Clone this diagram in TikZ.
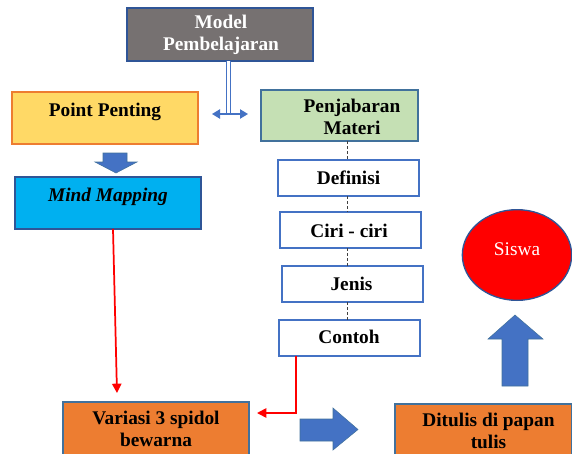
\documentclass[tikz,border=0pt]{standalone}
\usepackage{fontspec}
\setmainfont{Liberation Serif}[BoldFont={Liberation Serif Bold},ItalicFont={Liberation Serif Italic},BoldItalicFont={Liberation Serif Bold Italic}]
\usetikzlibrary{arrows.meta,shapes.geometric}
\definecolor{mgray}{HTML}{767171}
\definecolor{myellow}{HTML}{FFD966}
\definecolor{morange}{HTML}{ED7D31}
\definecolor{mcyan}{HTML}{00B0F0}
\definecolor{mgreen}{HTML}{C5E0B4}
\definecolor{mblue}{HTML}{4472C4}
\definecolor{mslate}{HTML}{41719C}
\definecolor{mdark}{HTML}{2F5597}
\tikzset{
  box/.style={draw=#1, line width=1.1pt, inner sep=0pt, outer sep=0pt},
  txt/.style={font=\fontsize{14.5}{16}\selectfont\bfseries, align=center, inner sep=0pt},
  item/.style={box=mblue, fill=white},
  dotline/.style={dash pattern=on 2.2pt off 1.6pt, line width=0.7pt, black!75},
  redline/.style={draw=red, line width=1.3pt, -{Triangle[length=7pt,width=7pt]}},
  blockarrow/.style={fill=mblue, draw=mslate, line width=0.4pt},
}
\newcommand{\boxat}[6]{% name, x1, y1, x2, y2, style
  \node[#6, minimum width={(#4-#2)*0.75pt}, minimum height={(#5-#3)*0.75pt}] (#1) at ({(#2+#4)/2},{(#3+#5)/2}) {};}
\begin{document}
\begin{tikzpicture}[x=0.75pt,y=-0.75pt]
\useasboundingbox (0,0) rectangle (572,454);

% boxes
\boxat{model}{127}{8}{313}{61}{box=mdark, fill=mgray}
\boxat{pp}{12}{92}{198}{144}{box=morange, fill=myellow}
\boxat{mm}{15}{177}{201}{229}{box=mdark, fill=mcyan}
\boxat{pm}{261}{90}{418}{141}{box=mslate, fill=mgreen}
\boxat{def}{278}{160}{419}{196}{item}
\boxat{ciri}{280}{212}{421}{248}{item}
\boxat{jen}{282}{266}{423}{302}{item}
\boxat{con}{279}{320}{420}{356}{item}
\boxat{var}{63}{402}{249}{458}{box=mslate, fill=morange}
\boxat{dit}{395}{404}{572}{458}{box=mslate, fill=morange}
\node[draw=mdark, line width=1pt, fill=red, ellipse, minimum width=82pt, minimum height=68pt, inner sep=0pt] (sis) at (517,255) {};

% texts
\node[txt, text=white] (tmodel) at (221,35) {Model\\Pembelajaran};
\node[txt] (tpp) at (105,112) {Point Penting};
\node[txt, font=\fontsize{14.5}{16}\selectfont\bfseries\itshape] (tmm) at (108,197) {Mind Mapping};
\node[txt] (tpm) at (352,117) {Penjabaran\\Materi};
\node[txt] (tdef) at (348.5,178) {Definisi};
\node[txt] (tciri) at (349,231) {Ciri - ciri};
\node[txt] (tjen) at (351.5,283.5) {Jenis};
\node[txt] (tcon) at (349,337) {Contoh};
\node[txt] (tvar) at (156,429) {Variasi 3 spidol\\bewarna};
\node[txt] (tdit) at (488.5,431) {Ditulis di papan\\tulis};
\node[font=\fontsize{14.5}{16}\selectfont, text=white, inner sep=0pt] (tsis) at (517,249) {Siswa};

% double line and two-headed arrow below the model box
\coordinate (jn) at (228.5,114);
\coordinate (jl) at (212,114);
\coordinate (jr) at (248,114);
\draw[mblue, double=white, double distance=2.6pt, line width=0.9pt] (model.south -| jn) -- (jn);
\draw[mblue, line width=1pt, {Triangle[length=6pt,width=7pt]}-{Triangle[length=6pt,width=7pt]}] (jl) -- (jr);

% dashed links in the right column
\draw[dotline] (pm.south -| 347,0) -- (def.north -| 347,0);
\draw[dotline] (def.south -| 347,0) -- (ciri.north -| 347,0);
\draw[dotline] (ciri.south -| 347,0) -- (jen.north -| 347,0);
\draw[dotline] (jen.south -| 347,0) -- (con.north -| 347,0);

% red connectors
\coordinate (vtip) at (117,393);
\draw[redline] (mm.south -| 113,0) -- (vtip);
\coordinate (celb) at (296,413);
\coordinate (ctip) at (257,413);
\draw[redline] (con.south -| celb) -- (celb) -- (ctip);

% block arrows
\fill[blockarrow] (103,153) -- (127,153) -- (127,162) -- (137,162) -- (116,173) -- (95,162) -- (103,162) -- cycle;
\fill[blockarrow] (300,419) -- (333,419) -- (333,408) -- (358,429.5) -- (333,450) -- (333,441) -- (300,441) -- cycle;
\fill[blockarrow] (502,386) -- (502,339) -- (488,339) -- (515,315) -- (543,339) -- (528,339) -- (528,386) -- cycle;
\end{tikzpicture}
\end{document}
